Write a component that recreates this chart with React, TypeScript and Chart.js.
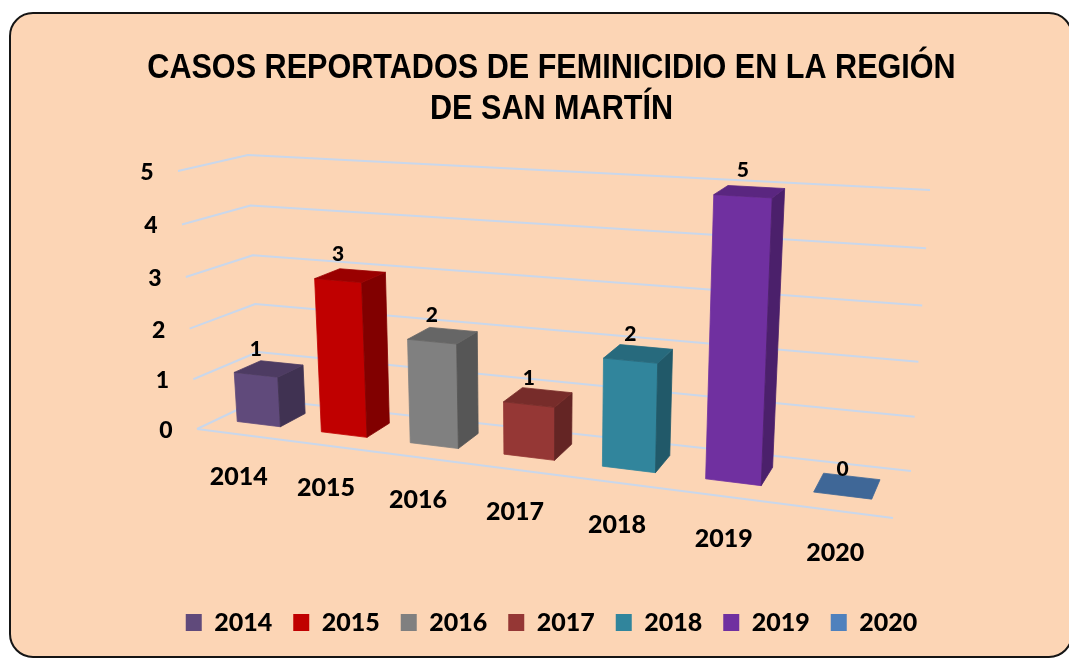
import React, { useEffect, useRef } from 'react';
import { Chart, registerables } from 'chart.js';

Chart.register(...registerables);

// ---------- data ----------
const categories = ['2014', '2015', '2016', '2017', '2018', '2019', '2020'];
const cases = [1, 3, 2, 1, 2, 5, 0];
const seriesColors = ['#604A7B', '#C00000', '#808080', '#953735', '#31859C', '#7030A0', '#4F81BD'];
const titleLines = ['CASOS REPORTADOS DE FEMINICIDIO EN LA REGIÓN', 'DE SAN MARTÍN'];
const yMin = 0;
const yMax = 5;
const yStep = 1;

// ---------- 3D view (screen corners of the plot box) ----------
const GRID = '#C9D7EB';
const FONT = 'Lato, "Open Sans", sans-serif';
const LABEL_WEIGHT = '900';
const TITLE_CONDENSE = 0.874;
const CAGE = {
  bottom: { front: [[197, 429], [893, 518]], back: [[260, 399], [911, 471]] },
  top: { front: [[178, 171], [910.5, 214]], back: [[248, 155], [930, 190]] },
};
const BAR_Z0 = 0.33;
const BAR_Z1 = 0.75;

type P = [number, number];
const lerp = (a: P, b: P, t: number): P => [a[0] + (b[0] - a[0]) * t, a[1] + (b[1] - a[1]) * t];
const warpX = (X: number) => X - 0.172 * X * (1 - X);
const warpV = (t: number) => t - 0.045 * t * (1 - t);

function project(X: number, v: number, Z: number): P {
  const xw = warpX(X);
  const t = warpV((v - yMin) / (yMax - yMin));
  const bf = lerp(CAGE.bottom.front[0] as P, CAGE.bottom.front[1] as P, xw);
  const bk = lerp(CAGE.bottom.back[0] as P, CAGE.bottom.back[1] as P, xw);
  const tf = lerp(CAGE.top.front[0] as P, CAGE.top.front[1] as P, xw);
  const tk = lerp(CAGE.top.back[0] as P, CAGE.top.back[1] as P, xw);
  return lerp(lerp(bf, bk, Z), lerp(tf, tk, Z), t);
}

function shade(hex: string, f: number) {
  const n = parseInt(hex.slice(1), 16);
  const r = Math.round(((n >> 16) & 255) * f);
  const g = Math.round(((n >> 8) & 255) * f);
  const b = Math.round((n & 255) * f);
  return `rgb(${r},${g},${b})`;
}

function poly(ctx: CanvasRenderingContext2D, pts: P[], fill: string) {
  ctx.beginPath();
  ctx.moveTo(pts[0][0], pts[0][1]);
  for (let i = 1; i < pts.length; i++) ctx.lineTo(pts[i][0], pts[i][1]);
  ctx.closePath();
  ctx.fillStyle = fill;
  ctx.fill();
  ctx.strokeStyle = fill;
  ctx.lineWidth = 0.8;
  ctx.stroke();
}

const perspectivePlugin = {
  id: 'perspective3d',
  afterLayout(chart: any) {
    const tb = chart.titleBlock;
    if (tb && !tb.__condensed) {
      const orig = tb.draw.bind(tb);
      tb.draw = (...args: any[]) => {
        const ctx: CanvasRenderingContext2D = chart.ctx;
        const cx = (tb.left + tb.right) / 2;
        ctx.save();
        ctx.translate(cx, 0);
        ctx.scale(TITLE_CONDENSE, 1);
        ctx.translate(-cx, 0);
        orig(...args);
        ctx.restore();
      };
      tb.__condensed = true;
    }
  },
  beforeDatasetsDraw(chart: any) {
    const ctx: CanvasRenderingContext2D = chart.ctx;
    const xs = chart.scales.x;
    const ys = chart.scales.y;
    ctx.save();
    ctx.strokeStyle = GRID;
    ctx.lineWidth = 2;
    ctx.lineJoin = 'round';
    ys.ticks.forEach((t: any) => {
      const a = project(0, t.value, 0);
      const b = project(0, t.value, 1);
      const c = project(1, t.value, 1);
      ctx.beginPath();
      ctx.moveTo(a[0], a[1]);
      ctx.lineTo(b[0], b[1]);
      ctx.lineTo(c[0], c[1]);
      ctx.stroke();
    });
    const f0 = project(0, yMin, 0);
    const f1 = project(1, yMin, 0);
    ctx.beginPath();
    ctx.moveTo(f0[0], f0[1]);
    ctx.lineTo(f1[0], f1[1]);
    ctx.stroke();

    ctx.fillStyle = '#000';
    ctx.textAlign = 'center';
    ctx.textBaseline = 'middle';
    ctx.font = `${LABEL_WEIGHT} 23px ${FONT}`;
    ys.ticks.forEach((t: any) => {
      const p = project(0, t.value, 0);
      ctx.fillText(String(t.value), p[0] - 31, p[1] + 1.5);
    });
    ctx.font = `${LABEL_WEIGHT} 25px ${FONT}`;
    xs.getLabels().forEach((lab: string, i: number) => {
      const X = (xs.getPixelForValue(i) - xs.left) / xs.width;
      const p = project(X, yMin, 0);
      ctx.fillText(lab, p[0], p[1] + 42.3);
    });
    ctx.restore();
  },
  beforeDatasetDraw() {
    return false;
  },
  afterDatasetsDraw(chart: any) {
    const ctx: CanvasRenderingContext2D = chart.ctx;
    const xs = chart.scales.x;
    const ys = chart.scales.y;
    ctx.save();
    chart.data.datasets.forEach((ds: any, d: number) => {
      const meta = chart.getDatasetMeta(d);
      meta.data.forEach((el: any, i: number) => {
        const val = ds.data[i];
        if (val === null || val === undefined) return;
        const { x, y, base, width } = el.getProps(['x', 'y', 'base', 'width'], true);
        const xl = (x - width / 2 - xs.left) / xs.width;
        const xr = (x + width / 2 - xs.left) / xs.width;
        const v1 = ys.getValueForPixel(y);
        const v0 = ys.getValueForPixel(base);
        const col = ds.backgroundColor as string;
        if (v1 - v0 > 0.001) {
          poly(ctx, [project(xl, v0, BAR_Z0), project(xr, v0, BAR_Z0), project(xr, v1, BAR_Z0), project(xl, v1, BAR_Z0)], col);
          poly(ctx, [project(xr, v0, BAR_Z0), project(xr, v0, BAR_Z1), project(xr, v1, BAR_Z1), project(xr, v1, BAR_Z0)], shade(col, 0.67));
        }
        poly(ctx, [project(xl, v1, BAR_Z0), project(xr, v1, BAR_Z0), project(xr, v1, BAR_Z1), project(xl, v1, BAR_Z1)], shade(col, 0.8));
        const lp = project((xl + xr) / 2, v1, BAR_Z0);
        ctx.fillStyle = '#000';
        ctx.font = `${LABEL_WEIGHT} 21px ${FONT}`;
        ctx.textAlign = 'center';
        ctx.textBaseline = 'middle';
        ctx.fillText(String(val), lp[0], lp[1] - 26);
      });
    });
    ctx.restore();
  },
};

export default function App() {
  const ref = useRef<HTMLCanvasElement>(null);
  useEffect(() => {
    if (!ref.current) return;
    const datasets = categories.map((c, k) => ({
      label: c,
      data: categories.map((_, i) => (i === k ? cases[k] : null)),
      backgroundColor: seriesColors[k],
      borderWidth: 0,
      grouped: false,
      barPercentage: 0.52,
      categoryPercentage: 1,
    }));
    const chart = new Chart(ref.current, {
      type: 'bar',
      data: { labels: categories, datasets },
      options: {
        animation: false,
        responsive: false,
        devicePixelRatio: 1,
        events: [],
        layout: { padding: { left: 34, right: 0, top: 0, bottom: 13 } },
        plugins: {
          title: {
            display: true,
            text: titleLines,
            color: '#000',
            font: { family: '"Liberation Sans Narrow", "Arial Narrow", "Liberation Sans", Arial, sans-serif', size: 35, weight: 'bold', lineHeight: 1.17 },
            padding: { top: 48, bottom: 10 },
          },
          legend: {
            display: true,
            position: 'bottom',
            labels: {
              color: '#000',
              boxWidth: 16,
              boxHeight: 17,
              padding: 21,
              font: { family: FONT, size: 25, weight: LABEL_WEIGHT },
            },
          },
          tooltip: { enabled: false },
        },
        scales: {
          x: { display: true, grid: { display: false }, border: { display: false }, ticks: { display: false } },
          y: { display: true, min: yMin, max: yMax, grid: { display: false }, border: { display: false }, ticks: { display: false, stepSize: yStep } },
        },
      },
      plugins: [perspectivePlugin],
    } as any);
    return () => chart.destroy();
  }, []);
  return (
    <>
      <div
        style={{
          position: 'fixed',
          left: 9,
          top: 12,
          width: 1064,
          height: 646,
          boxSizing: 'border-box',
          border: '2px solid #151515',
          borderRadius: 24,
          background: '#FCD5B5',
        }}
      />
      <canvas ref={ref} width={1069} height={658} style={{ position: 'fixed', left: 0, top: 0, width: 1069, height: 658 }} />
    </>
  );
}
